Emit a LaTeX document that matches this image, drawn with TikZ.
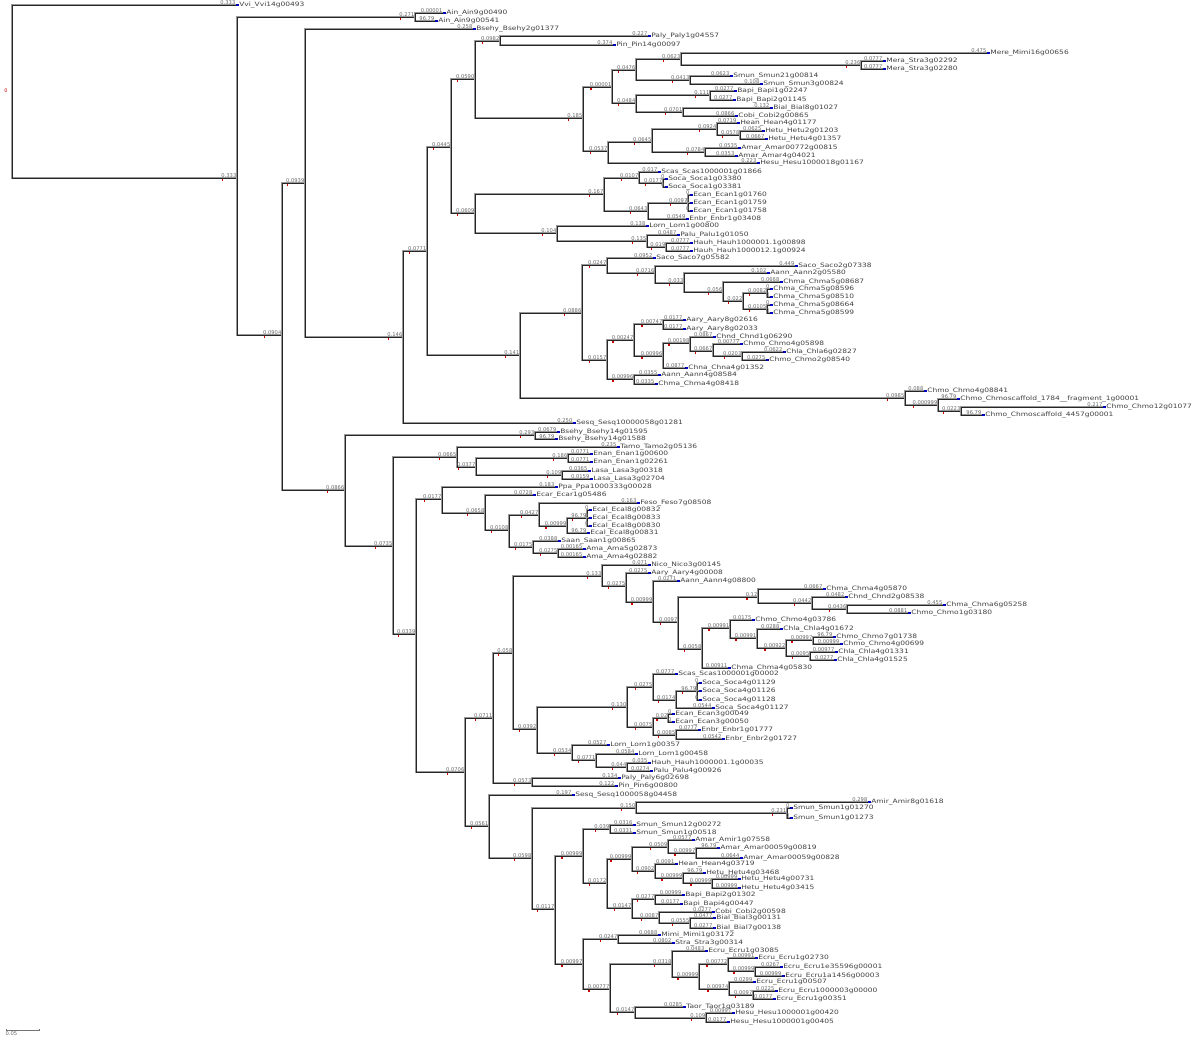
\documentclass[tikz,border=0pt]{standalone}
\usepackage{fontspec}
\usepackage{tikz}
\newfontfamily\leaffont[FakeStretch=1.25]{DejaVu Sans}
\newfontfamily\labfont{DejaVu Sans}
\newcommand\tipm{{\color{blue!75!black}\rule[0.9pt]{2.4pt}{1.5pt}}\hspace{0.7pt}}

\tikzset{
  branch/.style = {draw=black!85, line width=0.5pt, preaction={draw=black!40, line width=1.3pt}},
  leaf/.style = {anchor=west, inner sep=0pt, font=\leaffont\fontsize{6}{6}\selectfont, text=black!75, text height=3.6pt, text depth=0.6pt},
  blab/.style = {anchor=south east, inner sep=0.4pt, font=\labfont\fontsize{5.2}{5.2}\selectfont, text=black!60},
  nodemark/.style = {fill=red!80!black}
}

\begin{document}
\begin{tikzpicture}[x=1pt, y=-1pt]
			\useasboundingbox (0,0) rectangle (1200,1040);
			\def\nd#1#2#3#4#5{\coordinate (#2) at (#3,#4); \draw[branch] (#1) |- (#2) node[blab] (t) {#5}; \fill[nodemark] ([shift={(1,1.2)}]t.south west) rectangle ++(1.5,1.5);}
			\def\lf#1#2#3#4#5#6{\node[leaf] (#2) at (#3,#4) {\tipm #6}; \draw[branch] (#1) |- (#2.west) node[blab] {#5};}

			% root
			\coordinate (nr) at (12,92);
			\node[font=\labfont\fontsize{5}{5}\selectfont, text=red!80!black, inner sep=0pt] (r0) at (6,91) {0};
			\lf{nr}{vvi}{236}{5}{0.333}{Vvi\_Vvi14g00493}
			\nd{nr}{na}{237}{178}{0.333}

			\nd{na}{nb}{415}{17}{0.271}
			\lf{nb}{ain1}{443}{13}{0.00001}{Ain\_Ain9g00490}
			\lf{nb}{ain2}{435}{21}{96.79}{Ain\_Ain9g00541}
			\nd{na}{nc}{282}{335}{0.0904}

			% upper clade
			\nd{nc}{nd}{305}{183}{0.0939}
			\lf{nd}{bsehy1}{473}{29}{0.258}{Bsehy\_Bsehy2g01377}
			\nd{nd}{ne}{403}{337}{0.146}
			\nd{ne}{nf}{427}{251}{0.0771}
			\lf{ne}{sesq1}{573}{423}{0.250}{Sesq\_Sesq10000058g01281}
			\nd{nf}{ng}{451}{147}{0.0445}
			\nd{nf}{nh}{520}{355}{0.141}
			\nd{ng}{ni}{475}{79}{0.0590}
			\nd{ng}{nj}{475}{213}{0.0609}
			\nd{ni}{nk}{500}{41}{0.0982}
			\lf{nk}{paly1}{648}{36}{0.227}{Paly\_Paly1g04557}
			\lf{nk}{pin1}{613}{45}{0.374}{Pin\_Pin14g00097}
			\nd{ni}{nl}{583}{118}{0.185}
			\nd{nl}{nm}{612}{87}{0.00001}
			\nd{nl}{nn}{608}{151}{0.0537}
			\nd{nm}{no}{636}{70}{0.0476}
			\nd{nm}{np}{636}{103}{0.0484}
			\nd{no}{nq}{681}{59}{0.0623}
			\lf{nq}{mimi1}{987}{53}{0.475}{Mere\_Mimi16g00656}
			\nd{nq}{ns}{861}{65}{0.236}
			\lf{ns}{stra1}{883}{61}{0.0777}{Mera\_Stra3g02292}
			\lf{ns}{stra2}{883}{69}{0.0777}{Mera\_Stra3g02280}
			\nd{no}{nrr}{690}{80}{0.0413}
			\lf{nrr}{smun1}{730}{76}{0.0623}{Smun\_Smun21g00814}
			\lf{nrr}{smun2}{760}{84}{0.108}{Smun\_Smun3g00824}
			\nd{np}{nt}{710}{95}{0.111}
			\lf{nt}{bapi1}{734}{91}{0.0277}{Bapi\_Bapi1g02247}
			\lf{nt}{bapi2}{733}{100}{0.0277}{Bapi\_Bapi2g01145}
			\nd{np}{nu}{683}{112}{0.0701}
			\lf{nu}{bial1}{770}{108}{0.132}{Bial\_Bial8g01027}
			\lf{nu}{cobi1}{735}{116}{0.0866}{Cobi\_Cobi2g00865}
			\nd{nn}{nv}{652}{142}{0.0645}
			\lf{nn}{hesu1}{757}{163}{0.223}{Hesu\_Hesu1000018g01167}
			\nd{nv}{nw}{717}{129}{0.0924}
			\nd{nv}{nx}{705}{152}{0.0784}
			\lf{nw}{hean1}{737}{123}{0.0719}{Hean\_Hean4g01177}
			\nd{nw}{ny}{740}{135}{0.0578}
			\lf{ny}{hetu1}{762}{131}{0.0625}{Hetu\_Hetu2g01203}
			\lf{ny}{hetu2}{765}{139}{0.0667}{Hetu\_Hetu4g01357}
			\lf{nx}{amar1}{738}{148}{0.0535}{Amar\_Amar00772g00815}
			\lf{nx}{amar2}{735}{156}{0.0353}{Amar\_Amar4g04021}

			\nd{nj}{nz}{604}{194}{0.167}
			\nd{nj}{naa}{557}{233}{0.104}
			\nd{nz}{nab}{639}{178}{0.0107}
			\nd{nz}{nac}{648}{211}{0.0643}
			\lf{nab}{scas1}{658}{172}{0.017}{Scas\_Scas1000001g01866}
			\nd{nab}{nad}{663}{183}{0.0177}
			\lf{nad}{soca1}{665}{179}{0}{Soca\_Soca1g03380}
			\lf{nad}{soca2}{665}{187}{0}{Soca\_Soca1g03381}
			\nd{nac}{nae}{688}{203}{0.0097}
			\lf{nae}{ecan1}{690}{195}{0}{Ecan\_Ecan1g01760}
			\lf{nae}{ecan2}{690}{203}{0}{Ecan\_Ecan1g01759}
			\lf{nae}{ecan3}{690}{211}{0}{Ecan\_Ecan1g01758}
			\lf{nac}{enbr1}{686}{219}{0.0549}{Enbr\_Enbr1g03408}
			\lf{naa}{lorn1}{646}{226}{0.138}{Lorn\_Lorn1g00800}
			\nd{naa}{naf}{647}{241}{0.135}
			\lf{naf}{palu1}{677}{235}{0.0487}{Palu\_Palu1g01050}
			\nd{naf}{nag}{666}{247}{0.019}
			\lf{nag}{hauh1}{690}{243}{0.0777}{Hauh\_Hauh1000001.1g00898}
			\lf{nag}{hauh2}{690}{251}{0.0777}{Hauh\_Hauh1000012.1g00924}

			\nd{nh}{nah}{582}{313}{0.0886}
			\nd{nh}{nai}{905}{398}{0.0985}
			\nd{nah}{naj}{607}{265}{0.0247}
			\nd{nah}{nak}{607}{360}{0.0157}
			\lf{naj}{saco1}{653}{258}{0.0952}{Saco\_Saco7g05582}
			\nd{naj}{nal}{655}{273}{0.0716}
			\lf{nal}{saco2}{795}{266}{0.449}{Saco\_Saco2g07338}
			\nd{nal}{nam}{684}{283}{0.033}
			\lf{nam}{aann1}{767}{273}{0.102}{Aann\_Aann2g05580}
			\nd{nam}{nan}{723}{292}{0.056}
			\lf{nan}{chma1}{780}{282}{0.0668}{Chma\_Chma5g08687}
			\nd{nan}{nao}{743}{301}{0.022}
			\nd{nao}{nap}{767}{293}{0.0082}
			\nd{nao}{naq}{767}{309}{0.0105}
			\lf{nap}{chma2}{770}{289}{0}{Chma\_Chma5g08596}
			\lf{nap}{chma3}{770}{297}{0}{Chma\_Chma5g08510}
			\lf{naq}{chma4}{770}{305}{0}{Chma\_Chma5g08664}
			\lf{naq}{chma5}{770}{313}{0}{Chma\_Chma5g08599}
			\nd{nak}{nar}{634}{340}{0.00247}
			\nd{nak}{nas}{634}{379}{0.00996}
			\nd{nar}{nat}{663}{324}{0.00747}
			\nd{nar}{nau}{663}{356}{0.00996}
			\lf{nat}{aary1}{683}{320}{0.0177}{Aary\_Aary8g02616}
			\lf{nat}{aary2}{683}{329}{0.0177}{Aary\_Aary8g02033}
			\nd{nau}{nav}{690}{343}{0.00198}
			\lf{nau}{chna1}{685}{368}{0.0877}{Chna\_Chna4g01352}
			\lf{nav}{chnd1}{713}{337}{0.0867}{Chnd\_Chnd1g06290}
			\nd{nav}{naw}{713}{351}{0.0667}
			\lf{naw}{chmo1}{740}{344}{0.00777}{Chmo\_Chmo4g05898}
			\nd{naw}{nax}{742}{356}{0.0203}
			\lf{nax}{chla1}{783}{352}{0.0622}{Chla\_Chla6g02827}
			\lf{nax}{chmo2}{766}{360}{0.0275}{Chmo\_Chmo2g08540}
			\lf{nas}{aann2}{658}{375}{0.0355}{Aann\_Aann4g08584}
			\lf{nas}{chma6}{655}{384}{0.0335}{Chma\_Chma4g08418}
			\lf{nai}{chmo3}{924}{391}{0.088}{Chmo\_Chmo4g08841}
			\nd{nai}{nay}{938}{405}{0.000999}
			\lf{nay}{chmo4}{957}{399}{96.79}{Chmo\_Chmoscaffold\_1784\_\_fragment\_1g00001}
			\nd{nay}{naz}{961}{411}{0.0223}
			\lf{naz}{chmo5}{1103}{407}{0.217}{Chmo\_Chmo12g01077}
			\lf{naz}{chmo6}{982}{415}{96.79}{Chmo\_Chmoscaffold\_4457g00001}

			% lower clade
			\nd{nc}{nba}{345}{490}{0.0866}
			\nd{nba}{nbb}{535}{435}{0.293}
			\lf{nbb}{bsehy2}{557}{432}{0.0679}{Bsehy\_Bsehy14g01595}
			\lf{nbb}{bsehy3}{555}{439}{96.79}{Bsehy\_Bsehy14g01588}
			\nd{nba}{nbc}{393}{546}{0.0735}
			\nd{nbc}{nbd}{457}{457}{0.0665}
			\nd{nbc}{nbe}{416}{634}{0.0339}
			\lf{nbd}{tamo1}{617}{447}{0.235}{Tamo\_Tamo2g05136}
			\nd{nbd}{nbo}{476}{467}{0.0377}
			\nd{nbo}{nbp}{568}{458}{0.186}
			\nd{nbo}{nbq}{562}{475}{0.109}
			\lf{nbp}{enan1}{590}{454}{0.0771}{Enan\_Enan1g00600}
			\lf{nbp}{enan2}{590}{462}{0.0771}{Enan\_Enan1g02261}
			\lf{nbq}{lasa1}{588}{471}{0.0365}{Lasa\_Lasa3g00318}
			\lf{nbq}{lasa2}{590}{479}{0.0159}{Lasa\_Lasa3g02704}
			\nd{nbe}{nbf}{442}{499}{0.0177}
			\nd{nbe}{nbg}{465}{772}{0.0706}
			\lf{nbf}{ppa1}{555}{487}{0.183}{Ppa\_Ppa1000333g00028}
			\nd{nbf}{nbh}{485}{513}{0.0658}
			\lf{nbh}{ecar1}{533}{495}{0.0728}{Ecar\_Ecar1g05486}
			\nd{nbh}{nbi}{509}{530}{0.0108}
			\nd{nbi}{nbj}{539}{515}{0.0427}
			\nd{nbi}{nbk}{533}{547}{0.0175}
			\lf{nbj}{feso1}{637}{503}{0.163}{Feso\_Feso7g08508}
			\nd{nbj}{nbl}{567}{526}{0.00999}
			\nd{nbl}{nbm}{587}{518}{96.79}
			\lf{nbl}{ecal4}{587}{533}{96.79}{Ecal\_Ecal8g00831}
			\lf{nbm}{ecal1}{589}{510}{0}{Ecal\_Ecal8g00832}
			\lf{nbm}{ecal2}{589}{518}{0}{Ecal\_Ecal8g00833}
			\lf{nbm}{ecal3}{589}{526}{0}{Ecal\_Ecal8g00830}
			\lf{nbk}{saan1}{558}{541}{0.0388}{Saan\_Saan1g00865}
			\nd{nbk}{nbn}{558}{553}{0.0275}
			\lf{nbn}{ama1}{583}{549}{0.00165}{Ama\_Ama5g02873}
			\lf{nbn}{ama2}{583}{557}{0.00165}{Ama\_Ama4g02882}

			\nd{nbg}{nbr}{493}{718}{0.0711}
			\nd{nbg}{nbs}{489}{826}{0.0561}
			\nd{nbr}{nbu}{513}{653}{0.058}
			\nd{nbr}{nbv}{532}{783}{0.0573}
			\nd{nbu}{nbw}{602}{576}{0.133}
			\nd{nbu}{nbx}{537}{729}{0.0392}
			\lf{nbw}{nico1}{648}{565}{0.071}{Nico\_Nico3g00145}
			\nd{nbw}{nby}{626}{586}{0.0275}
			\lf{nby}{aary3}{648}{573}{0.0275}{Aary\_Aary4g00008}
			\nd{nby}{nbz}{653}{602}{0.00999}
			\lf{nbz}{aann3}{677}{581}{0.0271}{Aann\_Aann4g08800}
			\nd{nbz}{nca}{678}{622}{0.0097}
			\nd{nca}{ncb}{758}{597}{0.12}
			\nd{nca}{ncc}{702}{649}{0.0058}
			\lf{ncb}{chma7}{823}{589}{0.0667}{Chma\_Chma4g05870}
			\nd{ncb}{ncd}{812}{603}{0.0442}
			\lf{ncd}{chnd2}{845}{597}{0.0482}{Chnd\_Chnd2g08538}
			\nd{ncd}{nce}{847}{609}{0.0436}
			\lf{nce}{chma8}{943}{605}{0.455}{Chma\_Chma6g05258}
			\lf{nce}{chmo7}{908}{613}{0.0881}{Chmo\_Chmo1g03180}
			\nd{ncc}{ncf}{730}{628}{0.00991}
			\lf{ncc}{chma9}{728}{668}{0.00911}{Chma\_Chma4g05830}
			\lf{ncf}{chmo8}{752}{620}{0.0175}{Chmo\_Chmo4g03786}
			\nd{ncf}{ncg}{757}{638}{0.00991}
			\lf{ncg}{chla2}{780}{629}{0.0288}{Chla\_Chla4g01672}
			\nd{ncg}{nch}{786}{648}{0.00922}
			\nd{nch}{nci}{813}{640}{0.00997}
			\nd{nch}{ncj}{810}{656}{0.0095}
			\lf{nci}{chmo9}{833}{637}{96.79}{Chmo\_Chmo7g01738}
			\lf{nci}{chmo10}{840}{644}{0.00999}{Chmo\_Chmo4g00699}
			\lf{ncj}{chla3}{835}{652}{0.00977}{Chla\_Chla4g01331}
			\lf{ncj}{chla4}{834}{660}{0.0277}{Chla\_Chla4g01525}

			\nd{nbx}{nck}{627}{707}{0.130}
			\nd{nbx}{ncl}{572}{753}{0.0534}
			\nd{nck}{ncm}{653}{687}{0.0275}
			\nd{nck}{ncn}{653}{727}{0.0075}
			\lf{ncm}{scas2}{675}{674}{0.0777}{Scas\_Scas1000001g00002}
			\nd{ncm}{nco}{676}{700}{0.0174}
			\nd{nco}{ncp}{697}{691}{96.79}
			\lf{nco}{soca6}{712}{708}{0.0544}{Soca\_Soca4g01127}
			\lf{ncp}{soca3}{699}{683}{0}{Soca\_Soca4g01129}
			\lf{ncp}{soca4}{699}{691}{0}{Soca\_Soca4g01126}
			\lf{ncp}{soca5}{699}{700}{0}{Soca\_Soca4g01128}
			\nd{ncn}{ncq}{668}{718}{0.02}
			\nd{ncn}{ncr}{676}{735}{0.0085}
			\lf{ncq}{ecan4}{672}{714}{0}{Ecan\_Ecan3g00049}
			\lf{ncq}{ecan5}{672}{722}{0}{Ecan\_Ecan3g00050}
			\lf{ncr}{enbr2}{698}{730}{0.0777}{Enbr\_Enbr1g01777}
			\lf{ncr}{enbr3}{722}{739}{0.0542}{Enbr\_Enbr2g01727}
			\lf{ncl}{lorn2}{607}{745}{0.0527}{Lorn\_Lorn1g00357}
			\nd{ncl}{ncs}{596}{760}{0.0771}
			\lf{ncs}{lorn3}{635}{754}{0.0584}{Lorn\_Lorn1g00458}
			\nd{ncs}{nct}{627}{767}{0.044}
			\lf{nct}{hauh3}{648}{763}{0.035}{Hauh\_Hauh1000001.1g00035}
			\lf{nct}{palu2}{650}{771}{0.0274}{Palu\_Palu4g00926}
			\lf{nbv}{paly2}{618}{778}{0.134}{Paly\_Paly6g02698}
			\lf{nbv}{pin2}{615}{786}{0.122}{Pin\_Pin6g00800}

			\lf{nbs}{sesq2}{572}{795}{0.197}{Sesq\_Sesq1000058g04458}
			\nd{nbs}{nbt}{532}{858}{0.0598}
			\nd{nbt}{ncu}{636}{808}{0.150}
			\nd{nbt}{ncv}{555}{909}{0.0117}
			\lf{ncu}{amir1}{868}{802}{0.298}{Amir\_Amir8g01618}
			\nd{ncu}{ncw}{787}{813}{0.231}
			\lf{ncw}{smun3}{790}{808}{0}{Smun\_Smun1g01270}
			\lf{ncw}{smun4}{790}{818}{0}{Smun\_Smun1g01273}
			\nd{ncv}{ncx}{583}{856}{0.00999}
			\nd{ncv}{ncy}{583}{964}{0.00997}
			\nd{ncx}{ncz}{610}{829}{0.039}
			\nd{ncx}{nda}{607}{883}{0.0172}
			\lf{ncz}{smun5}{633}{825}{0.0316}{Smun\_Smun12g00272}
			\lf{ncz}{smun6}{633}{833}{0.0331}{Smun\_Smun1g00518}
			\nd{nda}{ndb}{632}{859}{0.00999}
			\nd{nda}{ndc}{632}{908}{0.0147}
			\nd{ndb}{ndd}{668}{847}{0.0509}
			\nd{ndb}{nde}{655}{871}{0.0902}
			\lf{ndd}{amar3}{692}{840}{0.0577}{Amar\_Amir1g07558}
			\nd{ndd}{ndf}{696}{853}{0.00997}
			\lf{ndf}{amar4}{717}{848}{96.79}{Amar\_Amar00059g00819}
			\lf{ndf}{amar5}{740}{858}{0.0644}{Amar\_Amar00059g00828}
			\lf{nde}{hean2}{675}{864}{0.0091}{Hean\_Hean4g03719}
			\nd{nde}{ndg}{683}{878}{0.00999}
			\lf{ndg}{hetu3}{703}{873}{96.79}{Hetu\_Hetu4g03468}
			\nd{ndg}{ndh}{712}{883}{0.00999}
			\lf{ndh}{hetu4}{738}{879}{0.00999}{Hetu\_Hetu4g00731}
			\lf{ndh}{hetu5}{738}{888}{0.00999}{Hetu\_Hetu4g03415}
			\nd{ndc}{ndi}{655}{899}{0.0277}
			\nd{ndc}{ndj}{659}{918}{0.0087}
			\lf{ndi}{bapi3}{682}{895}{0.00999}{Bapi\_Bapi2g01302}
			\lf{ndi}{bapi4}{680}{904}{0.0177}{Bapi\_Bapi4g00447}
			\lf{ndj}{cobi2}{712}{912}{0.0277}{Cobi\_Cobi2g00598}
			\nd{ndj}{ndk}{690}{923}{0.0555}
			\lf{ndk}{bial2}{713}{918}{0.0477}{Bial\_Bial3g00131}
			\lf{ndk}{bial3}{713}{928}{0.0277}{Bial\_Bial7g00138}
			\nd{ncy}{ndl}{618}{939}{0.0247}
			\nd{ncy}{ndm}{610}{989}{0.00777}
			\lf{ndl}{mimi2}{658}{935}{0.0688}{Mimi\_Mimi1g03172}
			\lf{ndl}{stra3}{672}{943}{0.0802}{Stra\_Stra3g00314}
			\nd{ndm}{ndn}{672}{964}{0.0318}
			\nd{ndm}{ndo}{635}{1012}{0.0147}
			\lf{ndn}{ecru1}{705}{951}{0.0483}{Ecru\_Ecru1g03085}
			\nd{ndn}{ndp}{699}{977}{0.00999}
			\nd{ndp}{ndq}{728}{964}{0.00772}
			\nd{ndp}{ndr}{729}{989}{0.00974}
			\lf{ndq}{ecru2}{755}{958}{0.00991}{Ecru\_Ecru1g02730}
			\nd{ndq}{nds}{755}{971}{0.00999}
			\lf{nds}{ecru3}{780}{967}{0.0267}{Ecru\_Ecru1e35596g00001}
			\lf{nds}{ecru4}{782}{976}{0.00999}{Ecru\_Ecru1a1456g00003}
			\lf{ndr}{ecru5}{753}{982}{0.0299}{Ecru\_Ecru1g00507}
			\nd{ndr}{ndt}{753}{995}{0.0097}
			\lf{ndt}{ecru6}{775}{991}{0.0225}{Ecru\_Ecru1000003g00000}
			\lf{ndt}{ecru7}{773}{999}{0.0177}{Ecru\_Ecru1g00351}
			\lf{ndo}{taor1}{683}{1007}{0.0285}{Taor\_Taor1g03189}
			\nd{ndo}{ndu}{706}{1018}{0.109}
			\lf{ndu}{hesu2}{732}{1013}{0.00997}{Hesu\_Hesu1000001g00420}
			\lf{ndu}{hesu3}{727}{1022}{0.0177}{Hesu\_Hesu1000001g00405}

			% scale bar
			\coordinate (sb1) at (6,1030);
			\coordinate (sb2) at (39,1030);
			\draw[black!55, line width=0.6pt] (sb1) -- (sb2);
			\draw[black!55, line width=0.6pt] ([yshift=-1.2pt]sb1) -- ([yshift=1.2pt]sb1);
			\draw[black!55, line width=0.6pt] ([yshift=-1.2pt]sb2) -- ([yshift=1.2pt]sb2);
			\node[blab, anchor=north west] (sbl) at (5,1031.5) {0.05};
		\end{tikzpicture}
\end{document}
